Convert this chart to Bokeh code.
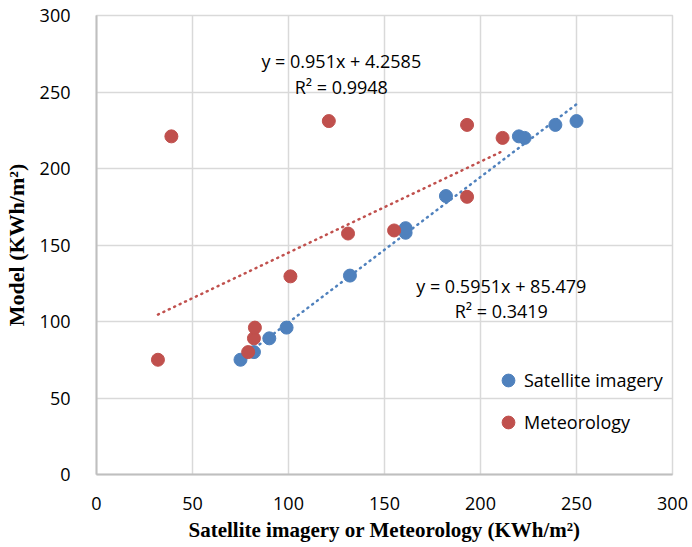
from bokeh.plotting import figure
from bokeh.models import Range1d, SingleIntervalTicker, Legend, LegendItem, Label
from bokeh.embed import file_html
from bokeh.resources import INLINE

# Data
sat_x = [75, 82, 90, 99, 132, 161, 161, 182, 220, 223, 239, 250]
sat_y = [75, 80, 89, 96, 130, 158, 161, 182, 221, 220, 228.5, 231]
met_x = [32, 39, 79, 82, 82.5, 101, 121, 131, 155, 193, 193, 211.5]
met_y = [75, 221, 80, 89, 96, 129.5, 231, 157.5, 159.5, 228.5, 181.5, 220]

sat_slope, sat_icpt, sat_r2 = 0.951, 4.2585, 0.9948
met_slope, met_icpt, met_r2 = 0.5951, 85.479, 0.3419

BLUE = "#4F81BD"
RED = "#C0504D"
GRID = "#D9D9D9"
FONT = "Open Sans"

p = figure(width=690, height=545, output_backend="svg", toolbar_location=None,
           x_range=Range1d(0, 300), y_range=Range1d(0, 300),
           min_border_left=90, min_border_right=18, min_border_top=15, min_border_bottom=71)
p.background_fill_color = "white"
p.border_fill_color = "white"
p.outline_line_color = GRID
p.outline_line_width = 1.5

for ax in (p.xaxis[0], p.yaxis[0]):
    ax.ticker = SingleIntervalTicker(interval=50)
    ax.major_tick_line_color = None
    ax.minor_tick_line_color = None
    ax.axis_line_color = "#BFBFBF"
    ax.axis_line_width = 2
    ax.major_label_text_font = FONT
    ax.major_label_text_font_size = "18px"
    ax.major_label_text_color = "#000000"
    ax.axis_label_text_font = "Liberation Serif"
    ax.axis_label_text_font_style = "bold"
    ax.axis_label_text_color = "#000000"

p.xaxis.axis_label = "Satellite imagery or Meteorology (KWh/m²)"
p.yaxis.axis_label = "Model (KWh/m²)"
p.xaxis.axis_label_text_font_size = "21px"
p.yaxis.axis_label_text_font_size = "22px"
p.xaxis.major_label_standoff = 16
p.yaxis.major_label_standoff = 20
p.xaxis.axis_label_standoff = 5
p.yaxis.axis_label_standoff = 8

p.xgrid.grid_line_color = GRID
p.ygrid.grid_line_color = GRID
p.xgrid.grid_line_width = 1.5
p.ygrid.grid_line_width = 1.5

# Trendlines
sx = [min(sat_x), max(sat_x)]
mx = [min(met_x), max(met_x)]
p.line(sx, [sat_slope * v + sat_icpt for v in sx], line_color=BLUE, line_width=2.5,
       line_dash="1 5", line_cap="round")
p.line(mx, [met_slope * v + met_icpt for v in mx], line_color=RED, line_width=2.5,
       line_dash="1 5", line_cap="round")

r_sat = p.scatter(sat_x, sat_y, size=13, fill_color=BLUE, line_color=BLUE)
r_met = p.scatter(met_x, met_y, size=13, fill_color=RED, line_color=RED)

legend = Legend(items=[LegendItem(label="Satellite imagery", renderers=[r_sat]),
                       LegendItem(label="Meteorology", renderers=[r_met])],
                location=(396, 36), orientation="vertical",
                background_fill_alpha=0, border_line_alpha=0,
                padding=0, margin=0, spacing=10,
                glyph_width=32, glyph_height=32, label_height=32, label_standoff=0,
                label_text_font=FONT, label_text_font_size="18px", label_text_color="#000000")
p.add_layout(legend)

def eq(slope, icpt):
    return f"y = {slope}x + {icpt}"

labels = [
    (127.5, 270, eq(sat_slope, sat_icpt)),
    (127.5, 253, f"R² = {sat_r2}"),
    (210.8, 123, eq(met_slope, met_icpt)),
    (210.8, 107, f"R² = {met_r2}"),
]
for lx, ly, t in labels:
    p.add_layout(Label(x=lx, y=ly, text=t, text_align="center", text_baseline="middle",
                       text_font=FONT, text_font_size="18px", text_color="#000000"))

open("out.html", "w").write(file_html(p, INLINE))
